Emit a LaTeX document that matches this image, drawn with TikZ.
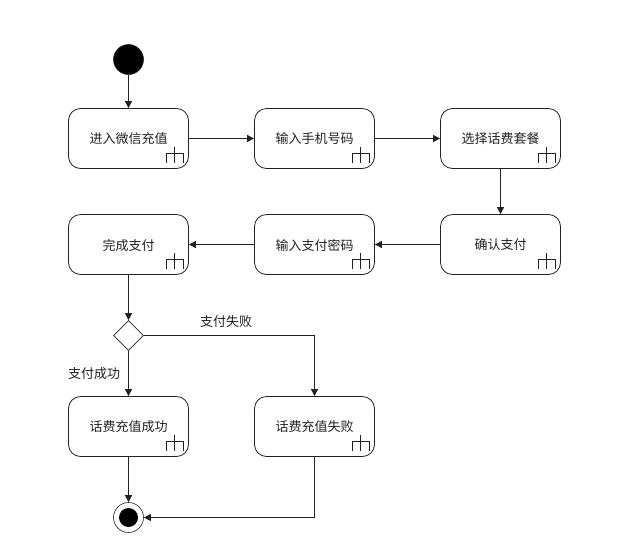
\documentclass[tikz,border=0pt]{standalone}
\usepackage{fontspec}
\newfontfamily\cjk{Noto Sans CJK SC}
\usetikzlibrary{arrows.meta,shapes.geometric,calc}
\definecolor{ln}{HTML}{222222}
\tikzset{
  activity/.style={draw=ln,line width=0.8pt,rounded corners=12pt,minimum width=120pt,minimum height=60pt,inner sep=0pt,text depth=0pt,font=\cjk\fontsize{13}{15}\selectfont,text=ln},
  startnode/.style={circle,fill=black,draw=ln,line width=0.6pt,minimum size=30pt,inner sep=0pt},
  decision/.style={diamond,aspect=1,draw=ln,line width=0.6pt,fill=white,minimum width=30pt,minimum height=30pt,inner sep=0pt},
  endouter/.style={circle,draw=ln,line width=0.6pt,minimum size=30pt,inner sep=0pt},
  endinner/.style={circle,fill=black,minimum size=19pt,inner sep=0pt},
  conn/.style={draw=ln,line width=0.9pt,-{Triangle[length=7pt,width=7pt]}},
  lbl/.style={font=\cjk\fontsize{13}{15}\selectfont,text=ln,inner sep=0pt},
  subsym/.style={draw=ln,line width=0.6pt}
}
\newcommand{\subact}[1]{%
  \draw[subsym] ($(#1.south east)+(-22.7pt,6.3pt)$) -- ++(0,9pt) -- ++(16.7pt,0) -- ++(0,-9pt)
                ($(#1.south east)+(-14.3pt,6.3pt)$) -- ++(0,15.7pt);}
\begin{document}
\begin{tikzpicture}[x=1pt,y=-1pt]
\useasboundingbox (0,0) rectangle (631,539);
\fill[white] (0,0) rectangle (631,539);
\node[startnode] (start) at (128.5,59.5) {};
\node[activity] (a1) at (128.5,138.5) {进入微信充值};
\node[activity] (a2) at (314.5,138.5) {输入手机号码};
\node[activity] (a3) at (500.5,138.5) {选择话费套餐};
\node[activity] (a4) at (500.5,244.5) {确认支付};
\node[activity] (a5) at (314.5,244.5) {输入支付密码};
\node[activity] (a6) at (128.5,244.5) {完成支付};
\node[decision] (d) at (128.5,335.5) {};
\node[activity] (a7) at (128.5,426.5) {话费充值成功};
\node[activity] (a8) at (314.5,426.5) {话费充值失败};
\node[endouter] (end) at (128.5,517.5) {};
\node[endinner] (endin) at (128.5,517.5) {};
\subact{a1}\subact{a2}\subact{a3}\subact{a4}\subact{a5}\subact{a6}\subact{a7}\subact{a8}
\draw[conn] (start) -- (a1.north -| start);
\draw[conn] (a1) -- (a2);
\draw[conn] (a2) -- (a3);
\draw[conn] (a3) -- (a4);
\draw[conn] (a4) -- (a5);
\draw[conn] (a5) -- (a6);
\draw[conn] (a6.south -| d) -- (d);
\draw[conn] (d) -- (a7.north -| d);
\draw[conn] (d.east) -| (a8);
\draw[conn] (a7.south -| end) -- (end);
\draw[conn] (a8) |- (end);
\node[lbl] (l1) at (226,321.5) {支付失败};
\node[lbl] (l2) at (94,373.5) {支付成功};
\end{tikzpicture}
\end{document}
